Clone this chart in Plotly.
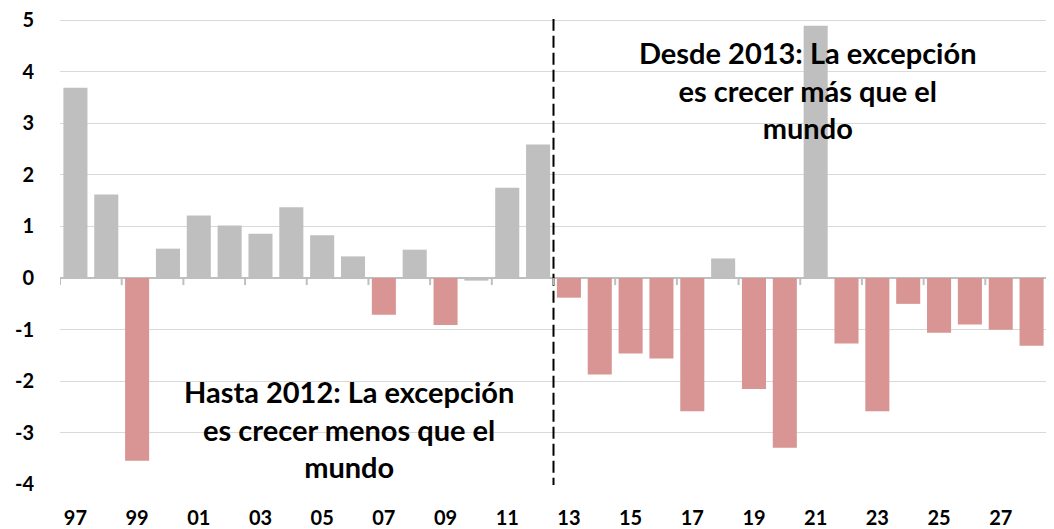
import plotly.graph_objects as go

years = ["97", "98", "99", "00", "01", "02", "03", "04", "05", "06", "07", "08",
         "09", "10", "11", "12", "13", "14", "15", "16", "17", "18", "19", "20",
         "21", "22", "23", "24", "25", "26", "27", "28"]
values = [3.69, 1.62, -3.54, 0.57, 1.21, 1.02, 0.86, 1.37, 0.83, 0.42, -0.71, 0.55,
          -0.91, -0.05, 1.75, 2.59, -0.38, -1.87, -1.46, -1.56, -2.58, 0.38, -2.15, -3.29,
          4.89, -1.27, -2.58, -0.50, -1.06, -0.90, -1.00, -1.31]
tick_labels = years[::2]
y_ticks = [-4, -3, -2, -1, 0, 1, 2, 3, 4, 5]
split_after = "12"

GRAY = "#BFBFBF"
PINK = "#D99594"
colors = [PINK if v < -0.1 else GRAY for v in values]

fig = go.Figure()
fig.add_trace(go.Bar(x=years, y=values, marker=dict(color=colors, line=dict(width=0)),
                     hoverinfo="x+y"))

split_idx = years.index(split_after) + 0.5
shapes = [dict(type="line", xref="x", yref="y", x0=split_idx, x1=split_idx,
               y0=-4.1, y1=5.05, line=dict(color="black", width=2, dash="12px,5px"))]
for i in range(0, len(years) + 1, 2):
    shapes.append(dict(type="line", xref="x", yref="y", ysizemode="pixel", yanchor=0,
                       x0=i - 0.5, x1=i - 0.5, y0=0, y1=-7,
                       line=dict(color=GRAY, width=2)))

font_family = "Lato"
# the page body adds an 8px offset, so the figure is sized to fit the window
fig.update_layout(
    width=1046, height=521,
    margin=dict(l=52, r=7, t=11, b=44),
    plot_bgcolor="white", paper_bgcolor="white",
    showlegend=False,
    bargap=0.22,
    font=dict(family=font_family, color="black"),
    shapes=shapes,
    xaxis=dict(type="category", tickvals=tick_labels, ticktext=tick_labels,
               showgrid=False, showline=False, ticks="", automargin=False,
               ticklabeloverflow="allow",
               tickfont=dict(family=font_family, size=20, color="black", weight="bold"),
               ticklabelstandoff=19, range=[-0.5, len(years) - 0.5]),
    yaxis=dict(range=[-4.01, 5.02], tickvals=y_ticks, ticktext=[str(v) for v in y_ticks],
               showgrid=True, gridcolor="#D9D9D9", gridwidth=1, automargin=False,
               ticklabeloverflow="allow",
               zeroline=True, zerolinecolor=GRAY, zerolinewidth=2,
               showline=False, ticks="",
               tickfont=dict(family=font_family, size=20, color="black", weight="bold"),
               ticklabelstandoff=25),
    annotations=[
        dict(text="Desde 2013: La excepción<br>es crecer más que el<br>mundo",
             xref="paper", yref="y", x=0.758, y=3.65, xanchor="center", yanchor="middle",
             showarrow=False, align="center",
             font=dict(family=font_family, size=29, color="black", weight="bold")),
        dict(text="Hasta 2012: La excepción<br>es crecer menos que el<br>mundo",
             xref="paper", yref="y", x=0.293, y=-2.93, xanchor="center", yanchor="middle",
             showarrow=False, align="center",
             font=dict(family=font_family, size=29, color="black", weight="bold")),
    ],
)

fig.write_html("out.html")
